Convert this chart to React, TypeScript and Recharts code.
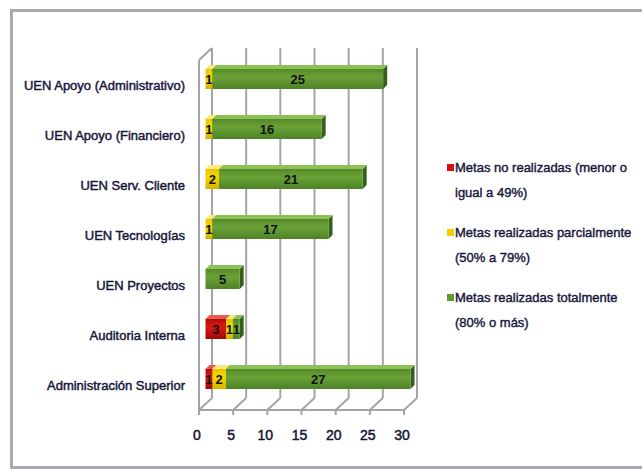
import React from 'react';
import { BarChart, Bar, XAxis, YAxis, CartesianGrid, Legend, LabelList } from 'recharts';

const categories = [
  'UEN Apoyo (Administrativo)',
  'UEN Apoyo (Financiero)',
  'UEN Serv. Cliente',
  'UEN Tecnologías',
  'UEN Proyectos',
  'Auditoria Interna',
  'Administración Superior',
];
const noRealizadas = [0, 0, 0, 0, 0, 3, 1];
const parciales = [1, 1, 2, 1, 0, 1, 2];
const totales = [25, 16, 21, 17, 5, 1, 27];
const xTicks = [0, 5, 10, 15, 20, 25, 30];
const seriesNames = [
  'Metas no realizadas (menor o igual a 49%)',
  'Metas realizadas parcialmente (50% a 79%)',
  'Metas realizadas totalmente (80% o más)',
];

const data = categories.map((name, i) => ({
  name,
  rojo: noRealizadas[i],
  amarillo: parciales[i],
  verde: totales[i],
}));

const FONT = '"Liberation Sans", Arial, sans-serif';
const TEXT = '#16163a';
const DEPTH_X = 13;
const DEPTH_Y = 12;
const SHIFT_X = 6.5;
const SHIFT_Y = -6;
const BAR_DX = 4;
const BAR_DY = 4;

type Palette = { front: string; top: string; side: string; grad: string };
const RED: Palette = { front: '#d01212', top: '#e85a50', side: '#8e0a0a', grad: 'gRed' };
const YELLOW: Palette = { front: '#f2cf00', top: '#fbe87a', side: '#b99a00', grad: 'gYellow' };
const GREEN: Palette = { front: '#5f9a2e', top: '#8cc255', side: '#35601a', grad: 'gGreen' };

const makeShape = (p: Palette) => (props: any) => {
  const { x, y, width, height } = props;
  if (!width || width <= 0.5) return <g />;
  const X = x + SHIFT_X;
  const Y = y + SHIFT_Y;
  const w = width;
  const h = height;
  return (
    <g>
      <polygon
        points={`${X + w},${Y} ${X + w + BAR_DX},${Y - BAR_DY} ${X + w + BAR_DX},${Y + h - BAR_DY} ${X + w},${Y + h}`}
        fill={p.side}
      />
      <polygon
        points={`${X},${Y} ${X + BAR_DX},${Y - BAR_DY} ${X + w + BAR_DX},${Y - BAR_DY} ${X + w},${Y}`}
        fill={p.top}
      />
      <rect x={X} y={Y} width={w} height={h} fill={`url(#${p.grad})`} />
    </g>
  );
};

const renderLabel = (props: any) => {
  const { x, y, width, height, value } = props;
  if (!value) return null;
  return (
    <text
      x={x + SHIFT_X + width / 2}
      y={y + SHIFT_Y + height / 2}
      dy="0.36em"
      textAnchor="middle"
      fontFamily={FONT}
      fontWeight="bold"
      fontSize={13}
      fill="#111"
    >
      {value}
    </text>
  );
};

const renderCategoryTick = (props: any) => {
  const { x, y, payload } = props;
  return (
    <text
      x={x}
      y={y}
      dy="0.36em"
      textAnchor="end"
      fontFamily={FONT}
      fontSize={13}
      fill={TEXT}
      stroke={TEXT}
      strokeWidth={0.45}
    >
      {payload.value}
    </text>
  );
};

const gridLine = (props: any) => {
  const { x1, y1, y2, index } = props;
  return (
    <g key={`g-${index}`}>
      <line x1={x1 + DEPTH_X} y1={y1 - DEPTH_Y} x2={x1 + DEPTH_X} y2={y2 - DEPTH_Y} stroke="#a2a4ac" strokeWidth={2} />
      <line x1={x1} y1={y2} x2={x1 + DEPTH_X} y2={y2 - DEPTH_Y} stroke="#a2a4ac" strokeWidth={2} />
      {index === 0 ? (
        <line x1={x1} y1={y1} x2={x1 + DEPTH_X} y2={y1 - DEPTH_Y} stroke="#a2a4ac" strokeWidth={2} />
      ) : null}
    </g>
  );
};

const renderLegend = (props: any) => {
  const payload = props.payload || [];
  return (
    <div style={{ fontFamily: FONT, fontSize: 13, color: TEXT, lineHeight: '25px', WebkitTextStroke: '0.4px #16163a' }}>
      {payload.map((entry: any, i: number) => (
        <div key={i} style={{ position: 'relative', paddingLeft: 8, marginBottom: 15 }}>
          <span
            style={{
              position: 'absolute',
              left: 0,
              top: 9,
              width: 7,
              height: 7,
              background: entry.color,
            }}
          />
          {entry.value}
        </div>
      ))}
    </div>
  );
};

export default function App() {
  return (
    <div style={{ position: 'absolute', left: 0, top: 0, width: 642, height: 469, background: '#fff', overflow: 'hidden' }}>
      <div
        style={{
          position: 'absolute',
          left: 10,
          top: 9,
          width: 700,
          height: 454,
          borderTop: '3px solid #a6a8b2',
          borderLeft: '3px solid #a6a8b2',
          borderBottom: '3px solid #a6a8b2',
        }}
      />
      <div style={{ position: 'absolute', left: 0, top: 0 }}>
        <BarChart
          width={642}
          height={469}
          data={data}
          layout="vertical"
          margin={{ top: 60, right: 238, bottom: 29, left: 9 }}
          barSize={20}
        >
          <defs>
            <linearGradient id="gRed" x1="0" y1="0" x2="0" y2="1">
              <stop offset="0" stopColor="#b00c0c" />
              <stop offset="0.4" stopColor="#d81a14" />
              <stop offset="1" stopColor="#a00a0a" />
            </linearGradient>
            <linearGradient id="gYellow" x1="0" y1="0" x2="0" y2="1">
              <stop offset="0" stopColor="#e8c400" />
              <stop offset="0.4" stopColor="#f7d900" />
              <stop offset="1" stopColor="#d4b000" />
            </linearGradient>
            <linearGradient id="gGreen" x1="0" y1="0" x2="0" y2="1">
              <stop offset="0" stopColor="#548a28" />
              <stop offset="0.4" stopColor="#6aa238" />
              <stop offset="1" stopColor="#4e8226" />
            </linearGradient>
          </defs>
          <CartesianGrid horizontal={false} vertical={gridLine} />
          <XAxis
            type="number"
            domain={[0, 30]}
            ticks={xTicks}
            interval={0}
            axisLine={{ stroke: '#a2a4ac', strokeWidth: 2 }}
            tickLine={{ stroke: '#a2a4ac', strokeWidth: 2 }}
            tickSize={5}
            tickMargin={15}
            height={30}
            tick={{ fontFamily: FONT, fontSize: 14, fill: TEXT, stroke: TEXT, strokeWidth: 0.5, dx: -2 }}
          />
          <YAxis
            type="category"
            dataKey="name"
            width={190}
            axisLine={{ stroke: '#a2a4ac', strokeWidth: 2 }}
            tickLine={false}
            tickMargin={8}
            interval={0}
            tick={renderCategoryTick}
          />
          <Legend
            layout="vertical"
            align="center"
            verticalAlign="middle"
            content={renderLegend}
            wrapperStyle={{ left: 447, top: 155, width: 193, height: 'auto' }}
          />
          <Bar dataKey="rojo" name={seriesNames[0]} stackId="a" fill={RED.front} shape={makeShape(RED)} isAnimationActive={false}>
            <LabelList dataKey="rojo" content={renderLabel} />
          </Bar>
          <Bar dataKey="amarillo" name={seriesNames[1]} stackId="a" fill={YELLOW.front} shape={makeShape(YELLOW)} isAnimationActive={false}>
            <LabelList dataKey="amarillo" content={renderLabel} />
          </Bar>
          <Bar dataKey="verde" name={seriesNames[2]} stackId="a" fill={GREEN.front} shape={makeShape(GREEN)} isAnimationActive={false}>
            <LabelList dataKey="verde" content={renderLabel} />
          </Bar>
        </BarChart>
      </div>
    </div>
  );
}
